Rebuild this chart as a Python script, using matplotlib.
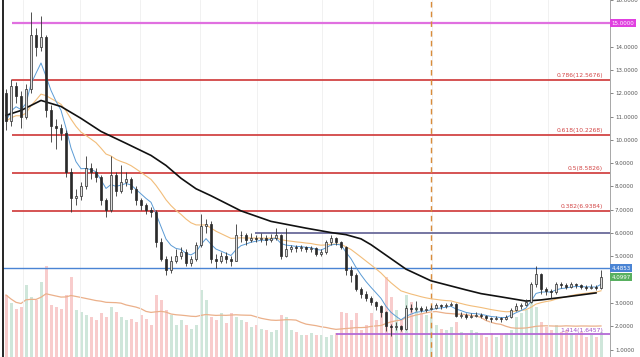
import matplotlib
matplotlib.use("Agg")
import matplotlib.pyplot as plt
import matplotlib.transforms as mtransforms
import numpy as np
import pandas as pd

# candles (open = previous close)
first_open = 12.0
close = [10.8, 12.3, 11.9, 11.0, 12.2, 14.5, 14.0, 14.4, 11.3, 10.6,
         10.5, 10.3, 8.6, 7.5, 7.6, 8.0, 8.8, 8.6, 8.4, 7.4,
         7.0, 8.5, 7.8, 8.2, 8.3, 7.9, 7.4, 7.2, 7.0, 6.9,
         5.6, 4.9, 4.4, 4.8, 5.0, 5.2, 4.7, 4.9, 5.5, 6.3,
         6.4, 4.9, 4.8, 5.0, 4.9, 4.8, 5.9, 5.9, 5.7, 5.8,
         5.75, 5.8, 5.7, 5.8, 5.9, 5.0, 5.3, 5.4, 5.35, 5.4,
         5.3, 5.35, 5.1, 5.2, 5.6, 5.8, 5.6, 5.4, 4.4, 4.2,
         3.6, 3.4, 3.2, 3.05, 2.85, 2.6, 2.0, 1.95, 2.0, 1.9,
         2.8, 2.75, 2.8, 2.7, 2.75, 2.8, 2.9, 2.85, 2.9, 2.95,
         2.45, 2.5, 2.4, 2.45, 2.5, 2.45, 2.35, 2.3, 2.35, 2.3,
         2.4, 2.7, 2.85, 2.9, 3.05, 3.8, 4.25, 3.6, 3.5, 3.45,
         3.8, 3.75, 3.7, 3.8, 3.75, 3.7, 3.65, 3.7, 3.65, 4.1]
high = [12.2, 12.6, 12.5, 12.1, 12.4, 15.5, 14.8, 15.3, 14.5, 11.5,
        10.9, 10.7, 10.4, 8.8, 7.9, 8.2, 9.3, 9.0, 8.8, 8.5,
        7.5, 9.3, 8.6, 8.9, 8.6, 8.4, 8.0, 7.5, 7.3, 7.1,
        7.0, 5.8, 5.0, 5.0, 5.3, 5.4, 5.3, 5.0, 5.6, 6.8,
        6.6, 6.5, 5.1, 5.2, 5.2, 5.0, 6.4, 6.1, 6.0, 6.0,
        5.9, 6.0, 5.9, 5.95, 6.2, 5.95, 6.2, 5.5, 5.5, 5.5,
        5.45, 5.45, 5.4, 5.3, 5.7, 5.9, 5.85, 5.65, 5.45, 4.6,
        4.3, 3.7, 3.5, 3.3, 3.1, 2.9, 2.65, 2.1, 2.2, 2.05,
        2.9, 2.95, 3.1, 2.85, 2.85, 2.9, 3.0, 2.95, 3.0, 3.05,
        3.0, 2.6, 2.55, 2.55, 2.6, 2.55, 2.5, 2.4, 2.45, 2.4,
        2.5, 2.8, 3.0, 3.0, 3.15, 3.9, 4.6, 4.3, 3.7, 3.6,
        3.9, 3.9, 3.85, 3.9, 3.85, 3.8, 3.75, 3.8, 3.75, 4.4]
low = [10.4, 10.6, 11.6, 10.5, 10.9, 12.0, 13.6, 13.8, 11.0, 9.9,
       9.6, 10.0, 8.4, 6.9, 7.2, 7.4, 7.9, 8.3, 8.2, 7.2,
       6.7, 6.9, 7.6, 7.7, 8.0, 7.7, 7.2, 7.0, 6.8, 6.7,
       5.4, 4.8, 4.2, 4.3, 4.7, 4.9, 4.6, 4.6, 4.8, 5.4,
       6.0, 4.7, 4.5, 4.7, 4.7, 4.6, 4.8, 5.6, 5.5, 5.6,
       5.6, 5.6, 5.5, 5.6, 5.7, 4.9, 4.95, 5.2, 5.2, 5.25,
       5.2, 5.2, 5.0, 5.0, 5.1, 5.5, 5.5, 5.3, 4.2, 3.9,
       3.5, 3.2, 3.1, 2.9, 2.7, 2.4, 1.8, 1.6, 1.85, 1.8,
       1.85, 2.6, 2.65, 2.6, 2.6, 2.7, 2.75, 2.75, 2.8, 2.85,
       2.4, 2.35, 2.3, 2.35, 2.4, 2.35, 2.25, 2.2, 2.25, 2.2,
       2.25, 2.35, 2.65, 2.75, 2.85, 3.0, 3.7, 3.4, 3.35, 3.2,
       3.4, 3.65, 3.6, 3.65, 3.65, 3.6, 3.55, 3.6, 3.55, 3.6]
volume = [62, 54, 48, 50, 72, 60, 57, 75, 91, 52,
          50, 48, 62, 80, 47, 45, 42, 40, 37, 44,
          40, 50, 45, 40, 37, 38, 35, 42, 38, 32,
          62, 57, 47, 42, 32, 37, 32, 28, 32, 67,
          57, 40, 37, 44, 34, 44, 40, 37, 35, 30,
          32, 28, 27, 25, 27, 42, 40, 27, 25, 22,
          22, 24, 22, 22, 20, 22, 24, 45, 44, 37,
          44, 27, 32, 44, 37, 50, 80, 60, 47, 37,
          62, 55, 50, 44, 42, 40, 32, 28, 27, 30,
          35, 25, 22, 27, 25, 22, 20, 24, 20, 22,
          24, 27, 40, 44, 47, 55, 50, 35, 30, 27,
          32, 25, 27, 24, 22, 25, 20, 22, 20, 25]

# long moving average
ma_idx = [0, 3, 7, 11, 15, 19, 24, 29, 32, 35, 38, 41, 47, 53, 60, 65, 68,
          71, 73, 75, 80, 85, 92, 95, 99, 104, 107, 112, 118]
ma_val = [11.05, 11.26, 11.69, 11.43, 10.92, 10.36, 9.85, 9.33, 8.9, 8.35,
          7.9, 7.6, 6.95, 6.5, 6.21, 6.02, 5.93, 5.75, 5.5, 5.2, 4.45,
          3.95, 3.56, 3.4, 3.26, 3.08, 3.13, 3.26, 3.43]

fib_levels = [0.786, 0.618, 0.5, 0.382]
fib_prices = [12.5676, 10.2268, 8.5826, 6.9384]
ext_level = 1.414
ext_price = 1.6457
top_level = 15.0
mid_level = 6.0
blue_level = 4.4853
last_price = 4.0997
event_idx = 85
grid_idx = [3.4, 14.8, 26.8, 38.8, 50.2, 63.2, 73.4, 85.2, 96.8, 108.4]
tick_vals = [1, 2, 3, 5, 6, 7, 8, 9, 10, 11, 12, 13, 14, 16]

n = len(close)
x = np.arange(n)
opn = [first_open] + close[:-1]
o = np.array(opn)
c = np.array(close)
up = c >= o

fig = plt.figure(figsize=(6.4, 3.57), dpi=100)
ax = fig.add_axes([3 / 640, 0, 607 / 640, 1])
ax.set_xlim(-0.6, 120.8)
ax.set_ylim(0.68, 15.97)

for g in grid_idx:
    ax.axvline(g, color="#efefef", lw=0.6, zorder=0)

# volume overlay
axv = ax.twinx()
axv.set_ylim(0, 357)
axv.set_yticks([])
vcol = np.where(up, "#cfe6da", "#f8cccc")
axv.bar(x, volume, width=0.6, color=vcol, zorder=1)
vma = pd.Series(volume).rolling(20, min_periods=1).mean()
axv.plot(x, vma, color="#ebb08a", lw=0.9)
axv.set_zorder(0)
ax.set_zorder(1)
ax.patch.set_visible(False)
for s in axv.spines.values():
    s.set_visible(False)

# moving averages
ema_fast = pd.Series(close).ewm(span=6, adjust=False).mean()
ema_slow = pd.Series(close).ewm(span=20, adjust=False).mean()
ax.plot(x, ema_slow, color="#f2bd7a", lw=0.8, zorder=3)
ax.plot(x, ema_fast, color="#5b9bd5", lw=0.7, zorder=3)
ax.plot(ma_idx, ma_val, color="#111111", lw=1.2, zorder=4)

# candles
ax.vlines(x, low, high, color="#333333", lw=0.6, zorder=5)
body_lo = np.minimum(o, c)
body_h = np.maximum(np.abs(c - o), 0.03)
ax.bar(x, body_h, bottom=body_lo, width=0.5,
       color=np.where(up, "#dddddd", "#2a2a2a"), edgecolor="#2a2a2a",
       linewidth=0.5, zorder=6)

# horizontal levels
xr = 120.8
ax.hlines(top_level, 1.2, xr, color="#e070e0", lw=1.6, zorder=2)
for lv, pr in zip(fib_levels, fib_prices):
    ax.hlines(pr, 1.2, xr, color="#d24545", lw=1.3, zorder=2)
    ax.text(119.4, pr + 0.08, f"{lv}({pr:.4f})", color="#d24545",
            fontsize=4.3, ha="right", va="bottom", zorder=7)
ax.hlines(mid_level, 49.8, xr, color="#6a6a9a", lw=1.3, zorder=2)
ax.hlines(blue_level, -0.6, xr, color="#4a84d4", lw=1.0, zorder=2)
ax.hlines(ext_price, 66, xr, color="#b36ad6", lw=1.3, zorder=2)
ax.text(119.4, ext_price + 0.08, f"{ext_level}({ext_price:.4f})",
        color="#a050c8", fontsize=4.3, ha="right", va="bottom", zorder=7)
ax.axvline(event_idx, color="#d98c3a", lw=1.0, ls=(0, (4, 3)), zorder=2)

# axis
ax.yaxis.tick_right()
ax.set_yticks(tick_vals)
ax.set_yticklabels([f"{v:.4f}" for v in tick_vals])
ax.tick_params(axis="y", labelsize=4, colors="#555555", length=2, width=0.5,
               pad=1.5)
ax.set_xticks([])
ax.spines["top"].set_visible(False)
ax.spines["bottom"].set_visible(False)
ax.spines["left"].set_color("#000000")
ax.spines["left"].set_linewidth(1.2)
ax.spines["right"].set_color("#999999")
ax.spines["right"].set_linewidth(0.6)

trans = mtransforms.blended_transform_factory(ax.transAxes, ax.transData)
for val, bg in [(top_level, "#e040e0"), (blue_level, "#4a84d4"),
                (last_price, "#58b060")]:
    ax.text(1.003, val, f"{val:.4f}", transform=trans, fontsize=4,
            color="white", ha="left", va="center", clip_on=False, zorder=8,
            bbox=dict(boxstyle="square,pad=0.25", fc=bg, ec="none"))

fig.savefig("out.png", dpi=100)
